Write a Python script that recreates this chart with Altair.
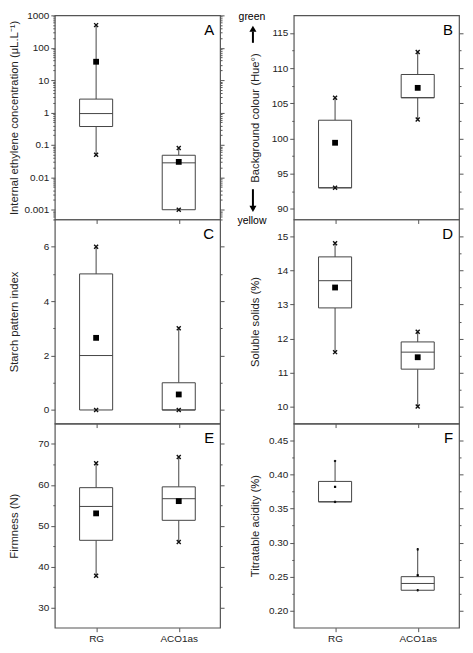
import json
import altair as alt
import pandas as pd

categories = ["RG", "ACO1as"]

# A: internal ethylene concentration (uL/L)
eth_min = [0.05, 0.001]
eth_q1 = [0.37, 0.001]
eth_median = [0.93, 0.028]
eth_q3 = [2.6, 0.048]
eth_max = [500, 0.08]
eth_mean = [37, 0.03]

# B: background colour (Hue)
hue_min = [93.0, 102.7]
hue_q1 = [93.0, 105.8]
hue_median = [93.0, 105.8]
hue_q3 = [102.6, 109.1]
hue_max = [105.8, 112.3]
hue_mean = [99.4, 107.2]

# C: starch pattern index
sta_min = [0, 0]
sta_q1 = [0, 0]
sta_median = [2, 0]
sta_q3 = [5, 1]
sta_max = [6, 3]
sta_mean = [2.65, 0.57]

# D: soluble solids (%)
ss_min = [11.6, 10.0]
ss_q1 = [12.9, 11.1]
ss_median = [13.7, 11.6]
ss_q3 = [14.4, 11.9]
ss_max = [14.8, 12.2]
ss_mean = [13.5, 11.45]

# E: firmness (N)
fi_min = [37.7, 46.0]
fi_q1 = [46.4, 51.3]
fi_median = [54.7, 56.6]
fi_q3 = [59.3, 59.5]
fi_max = [65.3, 66.8]
fi_mean = [53.0, 56.0]

# F: titratable acidity (%)
ta_min = [0.36, 0.23]
ta_q1 = [0.36, 0.23]
ta_median = [0.36, 0.24]
ta_q3 = [0.39, 0.25]
ta_max = [0.42, 0.29]
ta_mean = [0.382, 0.252]

# axis ticks
eth_major = [0.001, 0.01, 0.1, 1, 10, 100, 1000]
eth_minor = [k * 10.0 ** e for e in range(-4, 3) for k in range(2, 10)
             if 0.0005 <= k * 10.0 ** e <= 1000]
hue_major = [90, 95, 100, 105, 110, 115]
hue_minor = [92.5, 97.5, 102.5, 107.5, 112.5]
sta_major = [0, 2, 4, 6]
sta_minor = [1, 3, 5]
ss_major = [10, 11, 12, 13, 14, 15]
ss_minor = [10.5, 11.5, 12.5, 13.5, 14.5]
fi_major = [30, 40, 50, 60, 70]
fi_minor = [35, 45, 55, 65]
ta_major = [0.20, 0.25, 0.30, 0.35, 0.40, 0.45]
ta_minor = [0.225, 0.275, 0.325, 0.375, 0.425]

W = 166
H = 205
HALF = 0.2
LINE = "#444444"
FONT = "Liberation Sans"
XSHAPE = "M-1,-1L1,1M-1,1L1,-1"

panels = [
    dict(letter="A", title="Internal ethylene concentration (μL.L⁻¹)",
         stats=(eth_min, eth_q1, eth_median, eth_q3, eth_max, eth_mean),
         domain=[0.0005, 1000], log=True, major=eth_major, minor=eth_minor,
         fmt="~g", col=0, bottom=False, msize=34, xsize=16),
    dict(letter="B", title="Background colour (Hue°)",
         stats=(hue_min, hue_q1, hue_median, hue_q3, hue_max, hue_mean),
         domain=[88.5, 117.5], log=False, major=hue_major, minor=hue_minor,
         fmt="d", col=1, bottom=False, msize=34, xsize=16),
    dict(letter="C", title="Starch pattern index",
         stats=(sta_min, sta_q1, sta_median, sta_q3, sta_max, sta_mean),
         domain=[-0.5, 7], log=False, major=sta_major, minor=sta_minor,
         fmt="d", col=0, bottom=False, msize=34, xsize=16),
    dict(letter="D", title="Soluble solids (%)",
         stats=(ss_min, ss_q1, ss_median, ss_q3, ss_max, ss_mean),
         domain=[9.5, 15.5], log=False, major=ss_major, minor=ss_minor,
         fmt="d", col=1, bottom=False, msize=34, xsize=16),
    dict(letter="E", title="Firmness (N)",
         stats=(fi_min, fi_q1, fi_median, fi_q3, fi_max, fi_mean),
         domain=[25, 75], log=False, major=fi_major, minor=fi_minor,
         fmt="d", col=0, bottom=True, msize=34, xsize=16),
    dict(letter="F", title="Titratable acidity (%)",
         stats=(ta_min, ta_q1, ta_median, ta_q3, ta_max, ta_mean),
         domain=[0.175, 0.475], log=False, major=ta_major, minor=ta_minor,
         fmt=".2f", col=1, bottom=True, msize=5, xsize=3),
]

# B annotation positions (data units)
green_y = [117.3]
yellow_y = [88.35]
up_arrow = (113.6, 115.2, 115.6)     # shaft start, shaft end, head
down_arrow = (92.8, 90.4, 90.0)

cat_expr = json.dumps(categories) + "[datum.value]"


def make_panel(p):
    mn, q1, md, q3, mx, me = p["stats"]
    df = pd.DataFrame({
        "cat": categories, "idx": list(range(len(categories))),
        "min": mn, "q1": q1, "median": md, "q3": q3, "max": mx, "mean": me,
    })
    df["xlo"] = df["idx"] - HALF
    df["xhi"] = df["idx"] + HALF

    values = sorted(p["major"] + p["minor"])
    major_js = json.dumps(p["major"])
    test = f"indexof({major_js}, datum.value) >= 0"
    tick_cond = {"condition": {"test": test, "value": 4}, "value": 2}

    if p["log"]:
        yscale = alt.Scale(type="log", domain=p["domain"], nice=False)
    else:
        yscale = alt.Scale(domain=p["domain"], nice=False, zero=False)

    title_x = -35 if p["col"] == 0 else -33
    yaxis = alt.Axis(
        values=values, format=p["fmt"], title=p["title"],
        labelExpr=f"{test} ? datum.label : ''",
        tickSize=tick_cond, labelPadding=2, domain=False, grid=False,
        titleAngle=-90, titleX=title_x, titleY=H / 2,
        titleAlign="center", titleBaseline="bottom",
    )
    yaxis_r = alt.Axis(
        values=values, orient="right", labels=False, title=None,
        tickSize=tick_cond, domain=False, grid=False,
    )
    xaxis = alt.Axis(values=list(range(len(categories))), labelExpr=cat_expr,
                     labels=p["bottom"], title=None, tickSize=4,
                     labelPadding=2, domain=False, grid=False)
    xscale = alt.Scale(domain=[-0.5, len(categories) - 0.5], nice=False, zero=False)

    base = alt.Chart(df)
    X = lambda f: alt.X(f, scale=xscale, axis=xaxis)
    Y = lambda f: alt.Y(f, scale=yscale, axis=yaxis)

    wlo = base.mark_rule(color=LINE, strokeWidth=1).encode(x=X("idx:Q"), y=Y("min:Q"), y2="q1:Q")
    whi = base.mark_rule(color=LINE, strokeWidth=1).encode(x=X("idx:Q"), y=Y("q3:Q"), y2="max:Q")
    box = base.mark_rect(fill="white", stroke=LINE, strokeWidth=1).encode(
        x=X("xlo:Q"), x2="xhi:Q", y=Y("q1:Q"), y2="q3:Q")
    med = base.mark_rule(color=LINE, strokeWidth=1).encode(x=X("xlo:Q"), x2="xhi:Q", y=Y("median:Q"))
    mean = base.mark_point(shape="square", filled=True, color="black", size=p["msize"], opacity=1).encode(
        x=X("idx:Q"), y=Y("mean:Q"))
    hi = base.mark_point(shape=XSHAPE, filled=False, color="#111111", strokeWidth=1.4,
                         size=p["xsize"], opacity=1).encode(x=X("idx:Q"), y=Y("max:Q"))
    lo = base.mark_point(shape=XSHAPE, filled=False, color="#111111", strokeWidth=1.4,
                         size=p["xsize"], opacity=1).encode(x=X("idx:Q"), y=Y("min:Q"))
    letter = alt.Chart(pd.DataFrame({"t": [p["letter"]]})).mark_text(
        align="right", baseline="top", fontSize=15, font=FONT, color="black").encode(
        text="t:N", x=alt.value(W - 6), y=alt.value(8))

    layers = [wlo, whi, box, med, mean, hi, lo, letter]

    if p["letter"] == "B":
        ann = pd.DataFrame({"t": ["green", "yellow"], "y": green_y + yellow_y})
        txt = alt.Chart(ann).mark_text(fontSize=10.5, font=FONT, color="black",
                                       baseline="middle", align="center").encode(
            text="t:N", x=alt.value(-42), y=Y("y:Q"))
        shafts = alt.Chart(pd.DataFrame({"a": [up_arrow[0], down_arrow[0]],
                                         "b": [up_arrow[1], down_arrow[1]]})).mark_rule(
            color="black", strokeWidth=2).encode(x=alt.value(-41), y=Y("a:Q"), y2="b:Q")
        head_up = alt.Chart(pd.DataFrame({"h": [up_arrow[2]]})).mark_point(
            shape="triangle-up", filled=True, color="black", size=50, opacity=1).encode(
            x=alt.value(-41), y=Y("h:Q"))
        head_dn = alt.Chart(pd.DataFrame({"h": [down_arrow[2]]})).mark_point(
            shape="triangle-down", filled=True, color="black", size=50, opacity=1).encode(
            x=alt.value(-41), y=Y("h:Q"))
        layers += [txt, shafts, head_up, head_dn]

    inner = alt.layer(*layers)
    right = base.mark_point(opacity=0).encode(
        x=alt.value(0), y=alt.Y("mean:Q", scale=yscale, axis=yaxis_r))
    return alt.layer(inner, right).resolve_scale(y="independent").properties(width=W, height=H)


chart = alt.concat(*[make_panel(p) for p in panels], columns=2,
                   spacing={"row": 0, "column": 74}, bounds="flush").properties(
    padding=0
).configure_view(
    stroke="#555555", strokeWidth=1.2
).configure_axis(
    labelFont=FONT, titleFont=FONT, labelFontSize=10, titleFontSize=11.3,
    titleFontWeight="normal", labelColor="#222222", titleColor="#222222",
    tickColor="#555555"
)

chart.save("out.html", embed_options={"renderer": "svg", "actions": False})
